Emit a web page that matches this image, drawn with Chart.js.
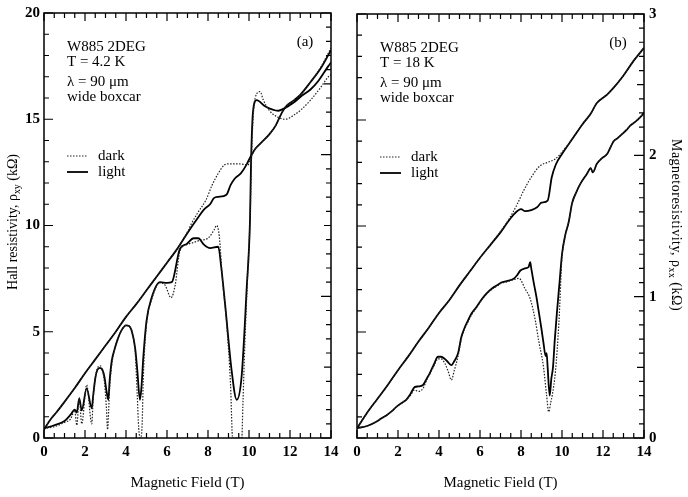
<!DOCTYPE html>
<html>
<head>
<meta charset="utf-8">
<script src="https://cdn.jsdelivr.net/npm/chart.js@4.4.1/dist/chart.umd.min.js"></script>
<style>
  html, body { margin: 0; padding: 0; background: #fff; }
  #wrap { position: relative; width: 688px; height: 497px; }
  .panel { position: absolute; top: 0; width: 344px; height: 497px; }
</style>
</head>
<body>
<div id="wrap">
  <div class="panel" style="left:0"><canvas id="chartA" width="344" height="497"></canvas></div>
  <div class="panel" style="left:344px"><canvas id="chartB" width="344" height="497"></canvas></div>
</div>
<script>
// ---- data: [field (T), value] ----
// panel (a), T = 4.2 K. Hall in kOhm (left scale), rho_xx in kOhm (right scale)
const hallLightA = [[0,0.4],[0.3,0.85],[0.6,1.2],[1,1.7],[1.5,2.35],[2,3.05],[2.5,3.7],[3,4.35],[3.5,5.0],[4,5.7],[4.5,6.3],[5,6.95],[5.5,7.6],[6,8.25],[6.5,8.9],[7,9.65],[7.5,10.35],[7.8,10.75],[8.1,11.0],[8.3,11.3],[8.5,11.35],[8.9,11.45],[9.1,11.9],[9.3,12.2],[9.6,12.45],[9.9,12.9],[10,13.1],[10.3,13.6],[10.6,13.9],[11,14.3],[11.3,14.7],[11.6,15.3],[11.8,15.6],[12.2,15.9],[12.5,16.15],[13,16.75],[13.5,17.4],[14,18.25]];
const hallDarkA = [[0,0.4],[0.3,0.85],[0.6,1.2],[1,1.7],[1.5,2.35],[2,3.05],[2.5,3.7],[3,4.35],[3.5,5.0],[4,5.7],[4.5,6.3],[5,6.95],[5.5,7.6],[6,8.25],[6.5,8.9],[7,9.7],[7.2,10.1],[7.5,10.6],[7.9,11.2],[8.2,11.9],[8.5,12.45],[8.8,12.85],[9.0,12.9],[9.5,12.9],[9.95,12.85],[10.05,13.1],[10.3,13.6],[10.6,13.9],[11,14.3],[11.3,14.7],[11.6,15.3],[11.8,15.6],[12.2,15.9],[12.5,16.15],[13,16.75],[13.5,17.45],[14,18.35]];
const rxxLightA = [[0,0.068],[0.5,0.09],[1.0,0.12],[1.3,0.165],[1.5,0.2],[1.6,0.18],[1.72,0.28],[1.84,0.195],[2.08,0.35],[2.33,0.21],[2.4,0.3],[2.5,0.42],[2.6,0.48],[2.73,0.495],[2.85,0.48],[2.95,0.43],[3.05,0.33],[3.14,0.27],[3.2,0.4],[3.3,0.54],[3.45,0.63],[3.6,0.7],[3.8,0.765],[4.0,0.795],[4.15,0.79],[4.3,0.745],[4.45,0.63],[4.55,0.48],[4.68,0.27],[4.75,0.35],[4.85,0.58],[5.0,0.825],[5.25,0.99],[5.66,1.10],[6.0,1.095],[6.23,1.10],[6.63,1.335],[6.96,1.37],[7.3,1.41],[7.53,1.41],[7.8,1.365],[8.1,1.34],[8.5,1.35],[8.65,1.2],[8.83,0.95],[9.15,0.48],[9.4,0.27],[9.64,0.435],[9.89,1.065],[10.05,1.545],[10.1,1.95],[10.2,2.31],[10.37,2.385],[10.8,2.34],[11.43,2.31],[11.7,2.325],[12.2,2.37],[12.57,2.415],[13.0,2.46],[13.38,2.52],[13.87,2.625],[14,2.65]];
const rxxDarkA = [[0,0.068],[0.5,0.08],[1.0,0.11],[1.3,0.135],[1.5,0.195],[1.6,0.09],[1.72,0.285],[1.84,0.1],[2.08,0.375],[2.33,0.1],[2.4,0.28],[2.5,0.42],[2.6,0.49],[2.73,0.51],[2.85,0.48],[2.95,0.39],[3.05,0.2],[3.1,0.06],[3.2,0.35],[3.3,0.51],[3.45,0.63],[3.6,0.7],[3.8,0.765],[4.0,0.795],[4.15,0.79],[4.3,0.745],[4.45,0.6],[4.55,0.3],[4.62,0.07],[4.7,0],[4.78,0.07],[4.85,0.45],[5.0,0.8],[5.25,0.975],[5.66,1.095],[5.9,1.08],[6.2,0.99],[6.4,1.08],[6.63,1.32],[6.96,1.365],[7.3,1.38],[7.6,1.395],[8.0,1.41],[8.3,1.47],[8.42,1.5],[8.55,1.425],[8.7,1.125],[8.9,0.825],[9.1,0.375],[9.2,0],[9.65,0],[9.7,0.225],[9.8,0.675],[9.95,1.2],[10.05,1.545],[10.15,2.1],[10.3,2.4],[10.54,2.445],[10.7,2.385],[11.0,2.31],[11.4,2.265],[11.76,2.25],[12.2,2.28],[12.6,2.325],[13.0,2.385],[13.5,2.475],[13.87,2.55],[14,2.565]];

// panel (b), T = 18 K
const hallLightB = [[0,0.45],[0.5,1.2],[1,1.85],[1.5,2.5],[2,3.2],[2.5,3.85],[3,4.55],[3.5,5.2],[4,5.9],[4.5,6.5],[5,7.2],[5.5,7.85],[6,8.5],[6.5,9.1],[7,9.7],[7.4,10.25],[7.7,10.6],[8.0,10.8],[8.2,10.7],[8.5,10.75],[8.8,10.9],[9.0,11.1],[9.3,11.2],[9.5,12.3],[9.7,12.9],[10,13.4],[10.5,14.1],[11,14.8],[11.4,15.3],[11.7,15.8],[12.2,16.2],[12.5,16.5],[13,17.1],[13.5,17.8],[14,18.4]];
const hallDarkB = [[0,0.45],[0.5,1.2],[1,1.85],[1.5,2.5],[2,3.2],[2.5,3.85],[3,4.55],[3.5,5.2],[4,5.9],[4.5,6.5],[5,7.2],[5.5,7.85],[6,8.5],[6.5,9.1],[7,9.75],[7.4,10.3],[7.8,11.0],[8.13,11.67],[8.5,12.3],[8.94,12.85],[9.3,13.0],[9.67,13.16],[9.92,13.4],[10.5,14.1],[11,14.8],[11.4,15.3],[11.7,15.8],[12.2,16.2],[12.5,16.5],[13,17.1],[13.5,17.8],[14,18.4]];
const rxxLightB = [[0,0.07],[0.5,0.085],[0.94,0.115],[1.2,0.14],[1.43,0.16],[1.7,0.19],[1.92,0.22],[2.2,0.25],[2.4,0.27],[2.6,0.31],[2.81,0.36],[3.0,0.365],[3.22,0.375],[3.4,0.42],[3.54,0.455],[3.75,0.52],[3.95,0.575],[4.1,0.575],[4.28,0.56],[4.45,0.535],[4.6,0.515],[4.75,0.545],[4.93,0.6],[5.09,0.715],[5.25,0.78],[5.41,0.83],[5.6,0.885],[5.82,0.925],[6.05,0.975],[6.3,1.02],[6.6,1.06],[6.83,1.08],[7.04,1.10],[7.3,1.11],[7.64,1.127],[7.8,1.15],[7.97,1.185],[8.2,1.2],[8.37,1.21],[8.45,1.245],[8.5,1.2],[8.62,1.10],[8.75,1.0],[8.86,0.9],[9.0,0.77],[9.1,0.67],[9.2,0.58],[9.25,0.6],[9.3,0.5],[9.4,0.3],[9.48,0.42],[9.56,0.5],[9.65,0.7],[9.76,0.9],[9.88,1.1],[10.0,1.3],[10.15,1.43],[10.33,1.53],[10.49,1.66],[10.7,1.74],[10.9,1.8],[11.22,1.87],[11.4,1.91],[11.5,1.88],[11.7,1.94],[11.95,1.98],[12.2,2.01],[12.52,2.1],[12.7,2.12],[12.93,2.15],[13.15,2.18],[13.33,2.21],[13.6,2.24],[13.82,2.27],[14,2.3]];
const rxxDarkB = [[0,0.07],[0.5,0.085],[0.94,0.115],[1.2,0.14],[1.43,0.16],[1.7,0.19],[1.92,0.22],[2.2,0.25],[2.4,0.27],[2.6,0.3],[2.81,0.34],[3.0,0.33],[3.22,0.35],[3.4,0.41],[3.54,0.45],[3.75,0.51],[3.95,0.56],[4.1,0.56],[4.28,0.53],[4.45,0.47],[4.6,0.41],[4.75,0.48],[4.93,0.58],[5.09,0.7],[5.25,0.77],[5.41,0.82],[5.6,0.875],[5.82,0.92],[6.05,0.97],[6.3,1.015],[6.6,1.055],[6.83,1.075],[7.04,1.095],[7.3,1.105],[7.64,1.12],[7.9,1.13],[8.2,1.055],[8.45,0.985],[8.7,0.83],[8.86,0.69],[9.1,0.5],[9.25,0.3],[9.35,0.185],[9.45,0.25],[9.52,0.3],[9.68,0.47],[9.85,0.82],[10.0,1.28],[10.15,1.43],[10.33,1.53],[10.49,1.66],[10.7,1.74],[10.9,1.8],[11.22,1.87],[11.4,1.91],[11.5,1.88],[11.7,1.94],[11.95,1.98],[12.2,2.01],[12.52,2.1],[12.7,2.12],[12.93,2.15],[13.15,2.18],[13.33,2.21],[13.6,2.24],[13.82,2.27],[14,2.3]];

// ---- text ----
const infoA = ['W885 2DEG', 'T = 4.2 K', 'λ = 90 μm', 'wide boxcar'];
const infoB = ['W885 2DEG', 'T = 18 K', 'λ = 90 μm', 'wide boxcar'];
const seriesNames = ['dark', 'light'];
const xTitle = 'Magnetic Field (T)';
const hallTitle = [['Hall resistivity, ρ', false], ['xy', true], [' (kΩ)', false]];
const rxxTitle = [['Magnetoresistivity, ρ', false], ['xx', true], [' (kΩ)', false]];

const FONT = '"Liberation Serif", "Times New Roman", serif';
const DOT = [1.5, 1.5];

function toXY(arr) {
    return arr.map(([x, y]) => ({ x: x, y: y }));
}

function fixedSize(px) {
    return scale => {
        if (scale.isHorizontal()) {
            scale.height = px;
        } else {
            scale.width = px;
        }
    };
}

function drawRich(ctx, parts, size) {
    // measure, then draw centred on the current origin
    let total = 0;
    parts.forEach(([t, sub]) => {
        ctx.font = (sub ? size * 0.7 : size) + 'px ' + FONT;
        total += ctx.measureText(t).width;
    });
    let x = -total / 2;
    parts.forEach(([t, sub]) => {
        ctx.font = (sub ? size * 0.7 : size) + 'px ' + FONT;
        ctx.fillText(t, x, sub ? size * 0.3 : 0);
        x += ctx.measureText(t).width;
    });
}

const decor = {
    id: 'decor',
    afterDraw(chart, args, opts) {
        const { ctx, chartArea: a, scales } = chart;
        ctx.save();
        ctx.strokeStyle = '#000';
        ctx.lineWidth = 1.5;
        ctx.strokeRect(a.left, a.top, a.right - a.left, a.bottom - a.top);

        // inward ticks
        ctx.lineWidth = 1.2;
        ctx.beginPath();
        scales.x.ticks.forEach(t => {
            const px = scales.x.getPixelForValue(t.value);
            const len = Math.round(t.value * 2) % 4 === 0 ? 8 : 5;
            ctx.moveTo(px, a.bottom); ctx.lineTo(px, a.bottom - len);
            ctx.moveTo(px, a.top); ctx.lineTo(px, a.top + len);
        });
        scales.y.ticks.forEach(t => {
            const py = scales.y.getPixelForValue(t.value);
            const len = Math.round(t.value) % 5 === 0 ? 9 : 5;
            ctx.moveTo(a.left, py); ctx.lineTo(a.left + len, py);
        });
        scales.yr.ticks.forEach(t => {
            const py = scales.yr.getPixelForValue(t.value);
            const k = Math.round(t.value * 10);
            const len = k % 10 === 0 ? 10 : (k % 5 === 0 ? 7 : 5);
            ctx.moveTo(a.right, py); ctx.lineTo(a.right - len, py);
        });
        ctx.stroke();

        // info block
        ctx.fillStyle = '#000';
        ctx.textBaseline = 'middle';
        ctx.textAlign = 'left';
        ctx.font = '15px ' + FONT;
        const tx = a.left + 23;
        const offs = [34, 49, 69, 84];
        opts.info.forEach((s, i) => ctx.fillText(s, tx, a.top + offs[i]));
        ctx.textAlign = 'center';
        ctx.fillText(opts.tag, a.right - 26, a.top + 29);

        // legend
        ctx.textAlign = 'left';
        ctx.strokeStyle = '#222';
        ctx.lineWidth = 1.2;
        ctx.setLineDash(DOT);
        ctx.beginPath(); ctx.moveTo(tx, a.top + 143); ctx.lineTo(tx + 21, a.top + 143); ctx.stroke();
        ctx.setLineDash([]);
        ctx.strokeStyle = '#000';
        ctx.lineWidth = 1.8;
        ctx.beginPath(); ctx.moveTo(tx, a.top + 159); ctx.lineTo(tx + 21, a.top + 159); ctx.stroke();
        ctx.fillText(seriesNames[0], tx + 31, a.top + 143);
        ctx.fillText(seriesNames[1], tx + 31, a.top + 159);

        // vertical titles
        ctx.textAlign = 'left';
        if (opts.side === 'left') {
            ctx.translate(13, 222);
            ctx.rotate(-Math.PI / 2);
            drawRich(ctx, hallTitle, 14);
        } else {
            ctx.translate(chart.width - 12, 225);
            ctx.rotate(Math.PI / 2);
            ctx.letterSpacing = '0.5px';
            drawRich(ctx, rxxTitle, 14);
        }
        ctx.restore();
    }
};

function makeChart(id, data, opts) {
    const leftLabels = opts.side === 'left';
    const tickFont = { family: FONT, size: 15, weight: 'bold' };
    const titleFont = { family: FONT, size: 15 };
    return new Chart(document.getElementById(id), {
        type: 'line',
        data: {
            datasets: [
                { data: toXY(data.hallDark), yAxisID: 'y', borderColor: '#222', borderWidth: 1.2, borderDash: DOT },
                { data: toXY(data.rxxDark), yAxisID: 'yr', borderColor: '#222', borderWidth: 1.2, borderDash: DOT },
                { data: toXY(data.hallLight), yAxisID: 'y', borderColor: '#000', borderWidth: 1.8 },
                { data: toXY(data.rxxLight), yAxisID: 'yr', borderColor: '#000', borderWidth: 1.8 }
            ]
        },
        options: {
            responsive: false,
            animation: false,
            elements: { point: { radius: 0 }, line: { tension: 0, cubicInterpolationMode: 'monotone' } },
            layout: { padding: 0 },
            plugins: { legend: { display: false }, tooltip: { enabled: false }, decor: opts },
            scales: {
                x: {
                    type: 'linear', position: 'bottom', min: 0, max: 14,
                    grid: { display: false, drawTicks: false }, border: { display: false },
                    ticks: {
                        stepSize: 0.5, autoSkip: false, maxRotation: 0, padding: 5, color: '#000', font: tickFont,
                        callback: v => (Math.round(v * 2) % 4 === 0 ? String(v) : '')
                    },
                    title: { display: true, text: xTitle, color: '#000', font: titleFont, padding: { top: 0, bottom: 5 } },
                    afterFit: fixedSize(59)
                },
                xTop: {
                    type: 'linear', position: 'top', min: 0, max: 14,
                    grid: { display: false, drawTicks: false }, border: { display: false },
                    ticks: { display: false },
                    afterFit: fixedSize(13)
                },
                y: {
                    type: 'linear', position: 'left', min: 0, max: 20,
                    grid: { display: false, drawTicks: false }, border: { display: false },
                    ticks: {
                        display: leftLabels, stepSize: 1, autoSkip: false, padding: 4, color: '#000', font: tickFont,
                        callback: v => (v % 5 === 0 ? String(v) : '')
                    },
                    afterFit: fixedSize(leftLabels ? 44 : 13)
                },
                yr: {
                    type: 'linear', position: 'right', min: 0, max: 3,
                    grid: { display: false, drawTicks: false }, border: { display: false },
                    ticks: {
                        display: !leftLabels, stepSize: 0.1, autoSkip: false, padding: 5, color: '#000', font: tickFont,
                        callback: v => (Math.round(v * 10) % 10 === 0 ? String(Math.round(v)) : '')
                    },
                    afterFit: fixedSize(leftLabels ? 13 : 44)
                }
            }
        },
        plugins: [decor]
    });
}

makeChart('chartA',
    { hallLight: hallLightA, hallDark: hallDarkA, rxxLight: rxxLightA, rxxDark: rxxDarkA },
    { side: 'left', info: infoA, tag: '(a)' });
makeChart('chartB',
    { hallLight: hallLightB, hallDark: hallDarkB, rxxLight: rxxLightB, rxxDark: rxxDarkB },
    { side: 'right', info: infoB, tag: '(b)' });
</script>
</body>
</html>
